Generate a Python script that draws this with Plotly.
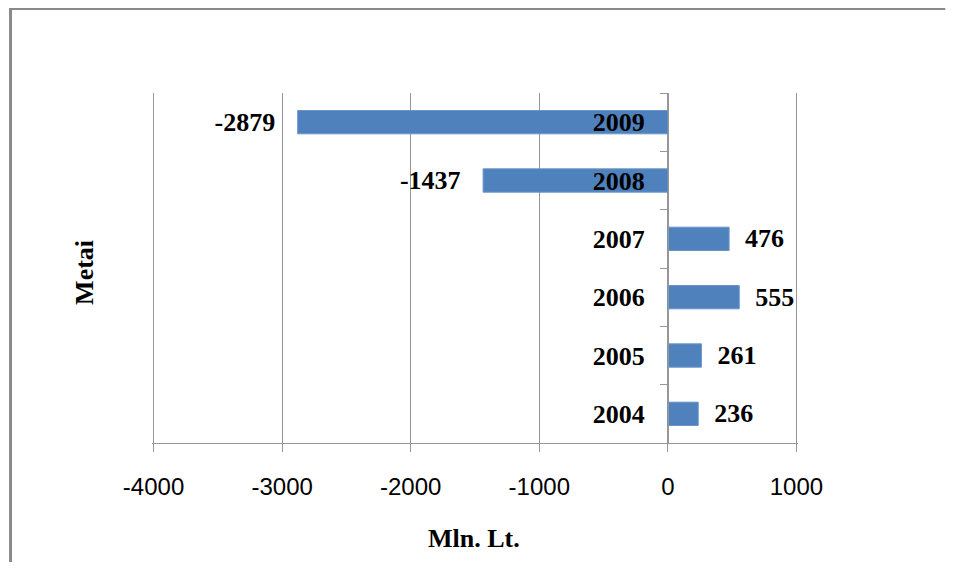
import plotly.graph_objects as go

# Data
years = ["2004", "2005", "2006", "2007", "2008", "2009"]
values = [236, 261, 555, 476, -1437, -2879]
x_ticks = [-4000, -3000, -2000, -1000, 0, 1000]
x_range = [-4012, 1012]  # a bit wider than the ticks so the edge gridlines show

BAR_COLOR = "#4F81BD"
GRID_COLOR = "#969696"
BORDER_COLOR = "#8a8a8a"
SERIF = "Liberation Serif, Times New Roman, serif"
SANS = "Liberation Sans Narrow, Arial Narrow, Liberation Sans, Arial, sans-serif"

# text labels: pad with non-breaking spaces so they sit away from the bar end
labels = [("\u00a0\u00a0" + str(v)) if v >= 0 else (str(v) + "\u00a0\u00a0\u00a0") for v in values]

# y axis crosses the x axis at zero
zero_pos = (0 - x_range[0]) / (x_range[1] - x_range[0])

fig = go.Figure()

fig.add_trace(go.Bar(
    x=values,
    y=years,
    orientation="h",
    marker=dict(color=BAR_COLOR, line=dict(color="#6a95c9", width=1)),
    text=labels,
    textposition="outside",
    constraintext="none",
    cliponaxis=False,
    textfont=dict(family=SERIF, size=26, color="black", weight="bold"),
    hoverinfo="x+y",
))

fig.update_layout(
    width=940,
    height=556,
    margin=dict(l=144, r=150, t=85, b=121),
    paper_bgcolor="white",
    plot_bgcolor="white",
    showlegend=False,
    bargap=0.6,
    xaxis=dict(
        range=x_range,
        tickvals=x_ticks,
        ticktext=[str(t) for t in x_ticks],
        showgrid=True,
        gridcolor=GRID_COLOR,
        gridwidth=1,
        zeroline=False,
        showline=True,
        linecolor=GRID_COLOR,
        linewidth=1,
        ticks="outside",
        ticklen=8,
        tickcolor=GRID_COLOR,
        ticklabelstandoff=14,
        tickfont=dict(family=SANS, size=24, color="black"),
    ),
    yaxis=dict(
        type="category",
        categoryorder="array",
        categoryarray=years,
        anchor="free",
        position=zero_pos,
        side="left",
        showgrid=False,
        zeroline=False,
        showline=True,
        linecolor=GRID_COLOR,
        linewidth=1,
        ticks="outside",
        tickson="boundaries",
        ticklen=8,
        tickcolor=GRID_COLOR,
        ticklabelstandoff=18,
        tickfont=dict(family=SERIF, size=26, color="black", weight="bold"),
    ),
)

# axis titles placed like the original
fig.add_annotation(
    text="Metai", xref="paper", yref="paper", x=-0.1037, y=0.486,
    textangle=-90, showarrow=False, xanchor="center", yanchor="middle",
    font=dict(family=SERIF, size=26, color="black", weight="bold"),
)
fig.add_annotation(
    text="Mln. Lt.", xref="paper", yref="paper", x=0.4992, y=-0.274,
    showarrow=False, xanchor="center", yanchor="middle",
    font=dict(family=SERIF, size=26, color="black", weight="bold"),
)

# chart frame (left and top edges visible in the original)
fig.add_shape(type="line", xref="paper", yref="paper",
              x0=-0.219, x1=-0.219, y0=1.2414, y1=-0.34,
              line=dict(color=BORDER_COLOR, width=3))
fig.add_shape(type="line", xref="paper", yref="paper",
              x0=-0.2213, x1=1.228, y0=1.2414, y1=1.2414,
              line=dict(color=BORDER_COLOR, width=3))

fig.write_html("out.html")
